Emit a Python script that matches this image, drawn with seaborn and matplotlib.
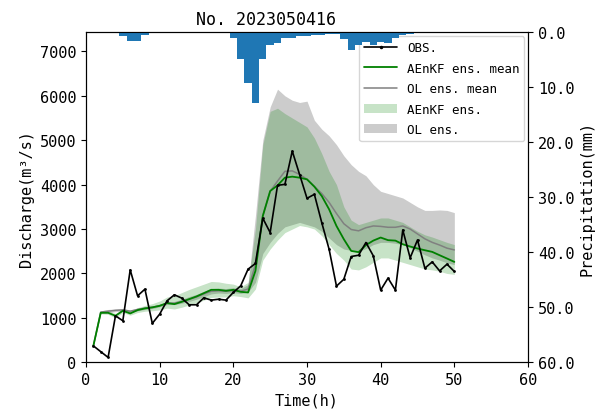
import matplotlib
matplotlib.use('Agg')
import matplotlib.pyplot as plt
import seaborn as sns
import pandas as pd
from matplotlib.patches import Patch
from matplotlib.lines import Line2D

hours = list(range(1, 51))
obs = [370, 240, 110, 1047, 935, 2081, 1497, 1647, 876, 1085,
       1384, 1520, 1445, 1295, 1295, 1452, 1400, 1420, 1400, 1573,
       1722, 2097, 2225, 3243, 2921, 3984, 4007, 4755, 4225, 3692,
       3782, 3146, 2546, 1715, 1870, 2382, 2411, 2697, 2397, 1625,
       1895, 1625, 2980, 2351, 2755, 2119, 2261, 2058, 2209, 2045]
aenkf_mean = [370, 1115, 1115, 1047, 1160, 1100, 1175, 1213, 1236, 1272,
              1333, 1310, 1362, 1422, 1483, 1557, 1632, 1632, 1610, 1632,
              1587, 1572, 2058, 3295, 3856, 3984, 4157, 4180, 4157, 4119,
              3955, 3744, 3445, 3070, 2771, 2508, 2480, 2640, 2740, 2809,
              2750, 2740, 2658, 2607, 2562, 2523, 2486, 2411, 2337, 2261]
ol_mean = [370, 1130, 1150, 1170, 1180, 1150, 1190, 1220, 1240, 1275,
           1330, 1330, 1370, 1420, 1470, 1540, 1600, 1610, 1600, 1620,
           1600, 1650, 2200, 3300, 3850, 4080, 4300, 4310, 4230, 4120,
           3960, 3800, 3600, 3350, 3120, 2990, 2960, 3030, 3070, 3060,
           3040, 3040, 3070, 3000, 2890, 2780, 2700, 2640, 2570, 2530]
aenkf_high = [370, 1140, 1150, 1100, 1200, 1150, 1230, 1280, 1320, 1380,
              1470, 1500, 1570, 1640, 1700, 1760, 1820, 1810, 1780, 1760,
              1700, 1800, 3000, 4900, 5650, 5720, 5600, 5500, 5400, 5300,
              5050, 4700, 4300, 4000, 3500, 3200, 3100, 3150, 3200, 3250,
              3250, 3200, 3150, 3050, 2950, 2870, 2820, 2760, 2700, 2650]
aenkf_low = [370, 1090, 1080, 1000, 1120, 1060, 1120, 1150, 1160, 1180,
             1220, 1200, 1240, 1290, 1340, 1400, 1460, 1470, 1470, 1500,
             1480, 1450, 1650, 2300, 2550, 2750, 2920, 3000, 3080, 3050,
             3000, 2850, 2650, 2450, 2300, 2100, 2080, 2150, 2250, 2350,
             2350, 2300, 2250, 2200, 2150, 2100, 2080, 2050, 2000, 1980]
ol_high = [370, 1160, 1190, 1200, 1210, 1180, 1220, 1250, 1270, 1300,
           1360, 1370, 1420, 1480, 1530, 1600, 1660, 1670, 1660, 1680,
           1660, 1750, 3300, 5000, 5750, 6150, 6000, 5900, 5850, 5880,
           5450, 5250, 5100, 4900, 4650, 4450, 4300, 4200, 4000, 3850,
           3800, 3750, 3700, 3600, 3500, 3420, 3420, 3430, 3420, 3370]
ol_low = [370, 1100, 1110, 1140, 1150, 1120, 1160, 1190, 1210, 1250,
          1300, 1300, 1330, 1370, 1420, 1480, 1540, 1560, 1550, 1570,
          1550, 1580, 1800, 2450, 2700, 2900, 3050, 3100, 3150, 3100,
          3050, 2950, 2800, 2650, 2550, 2520, 2500, 2560, 2650, 2700,
          2700, 2680, 2650, 2580, 2500, 2420, 2350, 2300, 2240, 2200]
precip = [0, 0, 0, 0, 0.6, 1.5, 1.5, 0.5, 0, 0,
          0, 0, 0, 0, 0, 0, 0, 0, 0, 1.1,
          4.9, 9.2, 12.8, 4.9, 2.3, 2.0, 1.0, 1.0, 0.6, 0.6,
          0.4, 0.4, 0.3, 0.3, 1.2, 3.2, 2.3, 1.7, 2.3, 1.7,
          2.0, 1.1, 0.5, 0.3, 0, 0, 0, 0, 0, 0]

title = "No. 2023050416"
x_ticks = [0, 10, 20, 30, 40, 50, 60]
q_ticks = [0, 1000, 2000, 3000, 4000, 5000, 6000, 7000]
p_ticks = [0, 10, 20, 30, 40, 50, 60]

sns.set_style('ticks')
plt.rcParams['font.family'] = ['DejaVu Sans Mono', 'DejaVu Sans']
for k in ['axes.edgecolor', 'text.color', 'xtick.color', 'ytick.color', 'axes.labelcolor']:
    plt.rcParams[k] = 'black'

df = pd.DataFrame({'hour': hours, 'obs': obs, 'aenkf': aenkf_mean, 'ol': ol_mean})

fig = plt.figure(figsize=(6.03, 4.14), dpi=100)
ax = fig.add_axes([86 / 603, 1 - 363.3 / 414, 442 / 603, 330 / 414])

ax.fill_between(hours, ol_low, ol_high, color='gray', alpha=0.4, lw=0)
ax.fill_between(hours, aenkf_low, aenkf_high, color='green', alpha=0.22, lw=0)
sns.lineplot(data=df, x='hour', y='ol', ax=ax, color='gray', lw=1.1, estimator=None)
sns.lineplot(data=df, x='hour', y='aenkf', ax=ax, color='green', lw=1.3, estimator=None)
sns.lineplot(data=df, x='hour', y='obs', ax=ax, color='black', lw=1.2, marker='.',
             markersize=4, markeredgewidth=0, estimator=None)

ax.set_xlim(0, 60)
ax.set_ylim(0, 7430)
ax.set_xticks(x_ticks)
ax.set_yticks(q_ticks)
ax.tick_params(labelsize=11)
ax.set_xlabel('Time(h)', fontsize=11)
ax.set_ylabel('Discharge(m³/s)', fontsize=11)
ax.set_title(title, fontsize=12, x=(266 - 86) / 442)

handles = [Line2D([], [], color='black', lw=1.2, marker='.', markersize=3),
           Line2D([], [], color='green', lw=1.3),
           Line2D([], [], color='gray', lw=1.1),
           Patch(facecolor='green', alpha=0.22, lw=0),
           Patch(facecolor='gray', alpha=0.4, lw=0)]
labels = ['OBS.', 'AEnKF ens. mean', 'OL ens. mean', 'AEnKF ens.', 'OL ens.']
ax.legend(handles, labels, loc='upper right', fontsize=9, borderaxespad=0.3,
          handlelength=2.6, labelspacing=0.6)

ax2 = ax.twinx()
ax2.bar(hours, precip, width=1.0, color='#1f77b4', linewidth=0)
ax2.set_ylim(60, 0)
ax2.set_yticks(p_ticks)
ax2.set_yticklabels([f'{v:.1f}' for v in p_ticks])
ax2.tick_params(labelsize=11)
ax2.set_ylabel('Precipitation(mm)', fontsize=11)

fig.savefig('out.png', dpi=100)
